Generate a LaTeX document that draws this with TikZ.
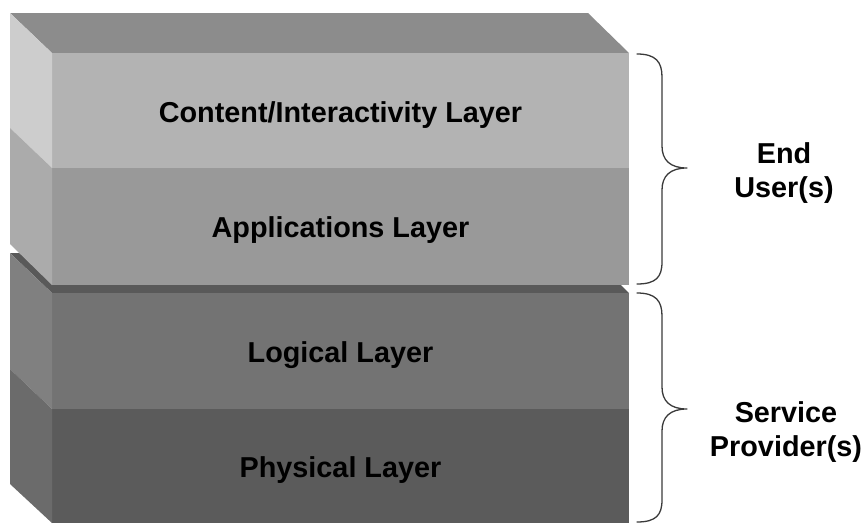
\documentclass[tikz,border=0pt]{standalone}
\usepackage{fontspec}
\setmainfont{Liberation Sans}
\definecolor{topU}{HTML}{8C8C8C}
\definecolor{contF}{HTML}{B3B3B3}
\definecolor{contS}{HTML}{CDCDCD}
\definecolor{appF}{HTML}{999999}
\definecolor{appS}{HTML}{ABABAB}
\definecolor{topL}{HTML}{595959}
\definecolor{logF}{HTML}{737373}
\definecolor{logS}{HTML}{808080}
\definecolor{phyF}{HTML}{5B5B5B}
\definecolor{phyS}{HTML}{6B6B6B}
\definecolor{braceC}{HTML}{3A3A3A}
\begin{document}
\begin{tikzpicture}[x=1pt,y=-1pt,
  lbl/.style={font=\fontsize{28.8}{34}\selectfont\bfseries, text=black, anchor=base, inner sep=0pt},
  bracestyle/.style={draw=braceC, line width=1.3pt, line cap=round, line join=round}]
\useasboundingbox (0,0) rectangle (865,523);
% lower block (service provider)
\fill[topL] (10,253) -- (588,253) -- (629,293) -- (52,293) -- cycle;
\fill[logF] (52,293) rectangle (629,409);
\fill[logS] (10,253) -- (52,293) -- (52,409) -- (10,369) -- cycle;
\fill[phyF] (52,409) rectangle (629,523);
\fill[phyS] (10,369) -- (52,409) -- (52,523) -- (10,484) -- cycle;
% upper block (end user)
\fill[topU] (10,13) -- (588,13) -- (629,53) -- (52,53) -- cycle;
\fill[contF] (52,53) rectangle (629,168);
\fill[contS] (10,13) -- (52,53) -- (52,168) -- (10,128) -- cycle;
\fill[appF] (52,168) rectangle (629,285);
\fill[appS] (10,128) -- (52,168) -- (52,285) -- (10,244) -- cycle;
% layer labels
\node[lbl] (content) at (340.5,122) {Content/Interactivity Layer};
\node[lbl] (apps) at (340.5,237) {Applications Layer};
\node[lbl] (logical) at (340.5,362) {Logical Layer};
\node[lbl] (physical) at (340.5,477) {Physical Layer};
% group labels
\node[lbl] (endA) at (784,163) {End};
\node[lbl] (endB) at (784,197) {User(s)};
\node[lbl] (servA) at (786,422) {Service};
\node[lbl] (servB) at (786,456) {Provider(s)};
% braces
\coordinate (b1s) at (637,54);
\coordinate (b1t) at (687,168);
\coordinate (b1e) at (637,284);
\coordinate (b2s) at (637,293);
\coordinate (b2t) at (687,409);
\coordinate (b2e) at (637,522);
\draw[bracestyle] (b1s) .. controls (656,54) and (662,62) .. (662,77)
  -- (662,146) .. controls (662,160) and (670,168) .. (b1t)
  .. controls (670,168) and (662,176) .. (662,190)
  -- (662,262) .. controls (662,277) and (656,284) .. (b1e);
\draw[bracestyle] (b2s) .. controls (656,293) and (662,301) .. (662,316)
  -- (662,387) .. controls (662,401) and (670,409) .. (b2t)
  .. controls (670,409) and (662,417) .. (662,431)
  -- (662,500) .. controls (662,515) and (656,522) .. (b2e);
\end{tikzpicture}
\end{document}
